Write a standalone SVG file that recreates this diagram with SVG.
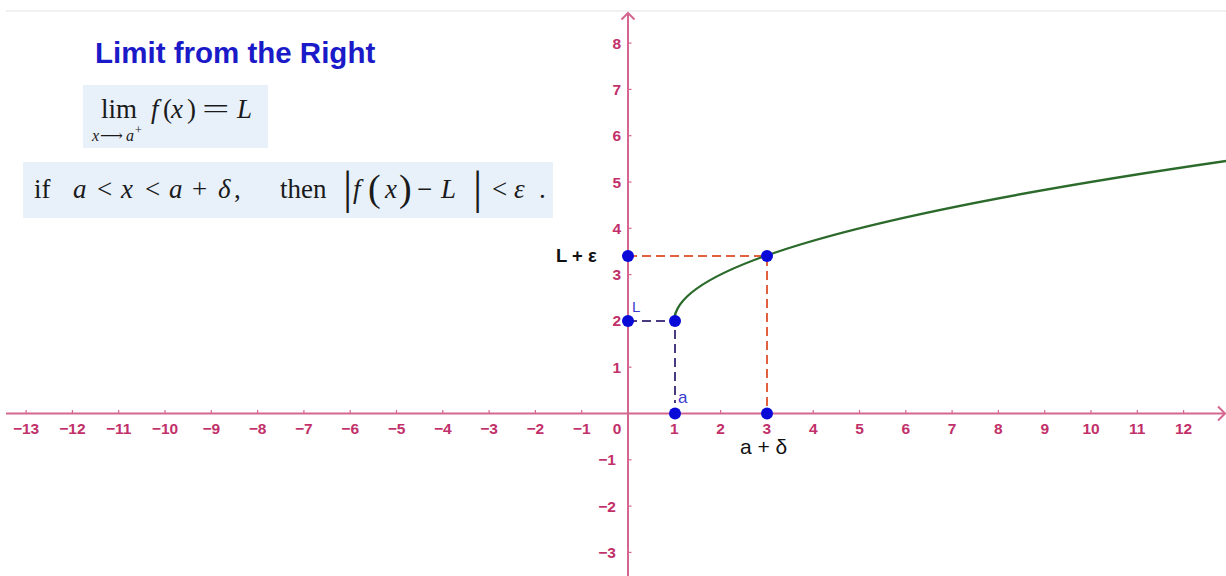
<svg xmlns="http://www.w3.org/2000/svg" width="1226" height="576" viewBox="0 0 1226 576">
<style>
.ax{stroke:#d4668f;stroke-width:2;fill:none}
.tk{stroke:#d4668f;stroke-width:1.2}
.xl{font-family:"Liberation Sans",Arial,sans-serif;font-weight:bold;font-size:15.5px;fill:#c2306a;text-anchor:middle}
.yl{font-family:"Liberation Sans",Arial,sans-serif;font-weight:bold;font-size:15.5px;fill:#c2306a;text-anchor:end}
.box{fill:#e8f1fa}
.m{font-family:"Liberation Serif","DejaVu Serif",serif;font-size:27px;fill:#1a1a1a}
.ms{font-family:"Liberation Serif","DejaVu Serif",serif;font-size:16px;fill:#1a1a1a}
.i{font-style:italic}
.pt{fill:#0a0ad8}
.red{stroke:#e0603f;stroke-width:2;stroke-dasharray:9 5;fill:none}
.pur{stroke:#4a3a80;stroke-width:2;stroke-dasharray:9 5;fill:none}
</style>
<rect width="1226" height="576" fill="#ffffff"/>
<line x1="6" y1="11" x2="1226" y2="11" stroke="#e4e4e4" stroke-width="1.2"/>

<g id="title">
<text x="95" y="63" font-family="Liberation Sans,Arial,sans-serif" font-weight="bold" font-size="29.5" fill="#1a1ac8">Limit from the Right</text>
</g>

<g id="limit-box">
<rect class="box" x="83" y="85" width="185" height="63"/>
<text class="m" y="118"><tspan x="101">lim</tspan><tspan x="151" class="i">f</tspan><tspan x="163">(</tspan><tspan x="171" class="i">x</tspan><tspan x="187">)</tspan><tspan x="237" class="i">L</tspan></text>
<text class="m" transform="translate(202,118) scale(1.8,1)">=</text>
<text class="ms" y="141"><tspan x="92" class="i">x</tspan><tspan x="100">⟶</tspan><tspan x="126" class="i">a</tspan><tspan x="135" dy="-7" style="font-size:12px">+</tspan></text>
</g>

<g id="definition-box">
<rect class="box" x="23" y="162" width="530" height="56"/>
<text class="m" y="198"><tspan x="34">if</tspan><tspan x="73" class="i">a</tspan><tspan x="97">&lt;</tspan><tspan x="121" class="i">x</tspan><tspan x="145">&lt;</tspan><tspan x="169" class="i">a</tspan><tspan x="192">+</tspan><tspan x="218" class="i">δ</tspan><tspan x="234">,</tspan><tspan x="280">then</tspan><tspan x="343" style="font-size:46px" dy="5">|</tspan><tspan x="353" class="i" dy="-5">f</tspan><tspan x="368" style="font-size:38px" dy="3">(</tspan><tspan x="385" class="i" dy="-3">x</tspan><tspan x="399" style="font-size:38px" dy="3">)</tspan><tspan x="417" dy="-3">−</tspan><tspan x="441" class="i">L</tspan><tspan x="473" style="font-size:46px" dy="5">|</tspan><tspan x="492" dy="-5">&lt;</tspan><tspan x="514" class="i">ε</tspan><tspan x="539">.</tspan></text>
</g>

<g id="axes">
<line class="ax" x1="6" y1="413.5" x2="1225" y2="413.5"/>
<polyline class="ax" points="1218,406.5 1225,413.5 1218,420.5"/>
<line class="ax" x1="628" y1="576" x2="628" y2="13"/>
<polyline class="ax" points="621.5,19.5 628,13 634.5,19.5"/>
<g class="tk">
<line x1="26.1" y1="410" x2="26.1" y2="413.5"/><line x1="72.4" y1="410" x2="72.4" y2="413.5"/><line x1="118.7" y1="410" x2="118.7" y2="413.5"/><line x1="165" y1="410" x2="165" y2="413.5"/><line x1="211.3" y1="410" x2="211.3" y2="413.5"/><line x1="257.6" y1="410" x2="257.6" y2="413.5"/><line x1="303.9" y1="410" x2="303.9" y2="413.5"/><line x1="350.2" y1="410" x2="350.2" y2="413.5"/><line x1="396.5" y1="410" x2="396.5" y2="413.5"/><line x1="442.8" y1="410" x2="442.8" y2="413.5"/><line x1="489.1" y1="410" x2="489.1" y2="413.5"/><line x1="535.4" y1="410" x2="535.4" y2="413.5"/><line x1="581.7" y1="410" x2="581.7" y2="413.5"/>
<line x1="720.6" y1="410" x2="720.6" y2="413.5"/><line x1="813.2" y1="410" x2="813.2" y2="413.5"/><line x1="859.5" y1="410" x2="859.5" y2="413.5"/><line x1="905.8" y1="410" x2="905.8" y2="413.5"/><line x1="952.1" y1="410" x2="952.1" y2="413.5"/><line x1="998.4" y1="410" x2="998.4" y2="413.5"/><line x1="1044.7" y1="410" x2="1044.7" y2="413.5"/><line x1="1091" y1="410" x2="1091" y2="413.5"/><line x1="1137.3" y1="410" x2="1137.3" y2="413.5"/><line x1="1183.6" y1="410" x2="1183.6" y2="413.5"/>
<line x1="628" y1="43.1" x2="631.5" y2="43.1"/><line x1="628" y1="89.4" x2="631.5" y2="89.4"/><line x1="628" y1="135.7" x2="631.5" y2="135.7"/><line x1="628" y1="182" x2="631.5" y2="182"/><line x1="628" y1="228.3" x2="631.5" y2="228.3"/><line x1="628" y1="274.6" x2="631.5" y2="274.6"/><line x1="628" y1="367.2" x2="631.5" y2="367.2"/><line x1="628" y1="459.8" x2="631.5" y2="459.8"/><line x1="628" y1="506.1" x2="631.5" y2="506.1"/><line x1="628" y1="552.4" x2="631.5" y2="552.4"/>
</g>
<g class="xl">
<text x="26.1" y="434">−13</text><text x="72.4" y="434">−12</text><text x="118.7" y="434">−11</text><text x="165" y="434">−10</text><text x="211.3" y="434">−9</text><text x="257.6" y="434">−8</text><text x="303.9" y="434">−7</text><text x="350.2" y="434">−6</text><text x="396.5" y="434">−5</text><text x="442.8" y="434">−4</text><text x="489.1" y="434">−3</text><text x="535.4" y="434">−2</text><text x="581.7" y="434">−1</text>
<text x="617" y="434">0</text>
<text x="674.3" y="434">1</text><text x="720.6" y="434">2</text><text x="766.9" y="434">3</text><text x="813.2" y="434">4</text><text x="859.5" y="434">5</text><text x="905.8" y="434">6</text><text x="952.1" y="434">7</text><text x="998.4" y="434">8</text><text x="1044.7" y="434">9</text><text x="1091" y="434">10</text><text x="1137.3" y="434">11</text><text x="1183.6" y="434">12</text>
</g>
<g class="yl">
<text x="621" y="48.6">8</text><text x="621" y="94.9">7</text><text x="621" y="141.2">6</text><text x="621" y="187.5">5</text><text x="621" y="233.8">4</text><text x="621" y="280.1">3</text><text x="621" y="326.4">2</text><text x="621" y="372.7">1</text><text x="616" y="465.3">−1</text><text x="616" y="511.6">−2</text><text x="616" y="557.9">−3</text>
</g>
</g>

<g id="connectors">
<polyline class="red" points="628,256 767,256 767,413.5"/>
<polyline class="pur" points="628,321 675,321 675,403"/>
</g>

<g id="curve">
<path d="M674.3,320.9 Q674.3,241 1226.2,161" fill="none" stroke="#2b6a2b" stroke-width="2.5"/>
</g>

<g id="point-L-eps"><circle class="pt" cx="628" cy="256" r="6"/></g>
<g id="point-curve-3"><circle class="pt" cx="767" cy="256" r="6"/></g>
<g id="point-L"><circle class="pt" cx="628" cy="321" r="6"/></g>
<g id="point-curve-1"><circle class="pt" cx="675" cy="321" r="6"/></g>
<g id="point-a"><circle class="pt" cx="675" cy="413.5" r="6"/></g>
<g id="point-a-delta"><circle class="pt" cx="767" cy="413.5" r="6"/></g>

<g id="labels" font-family="Liberation Sans,Arial,sans-serif">
<text x="556" y="262" font-size="18.5" font-weight="bold" fill="#111">L + ε</text>
<text x="632" y="312" font-size="15" fill="#3a3ad0">L</text>
<text x="678" y="403" font-size="17" fill="#3a3ad0">a</text>
<text x="740" y="454" font-size="21" fill="#111">a + δ</text>
</g>
</svg>
